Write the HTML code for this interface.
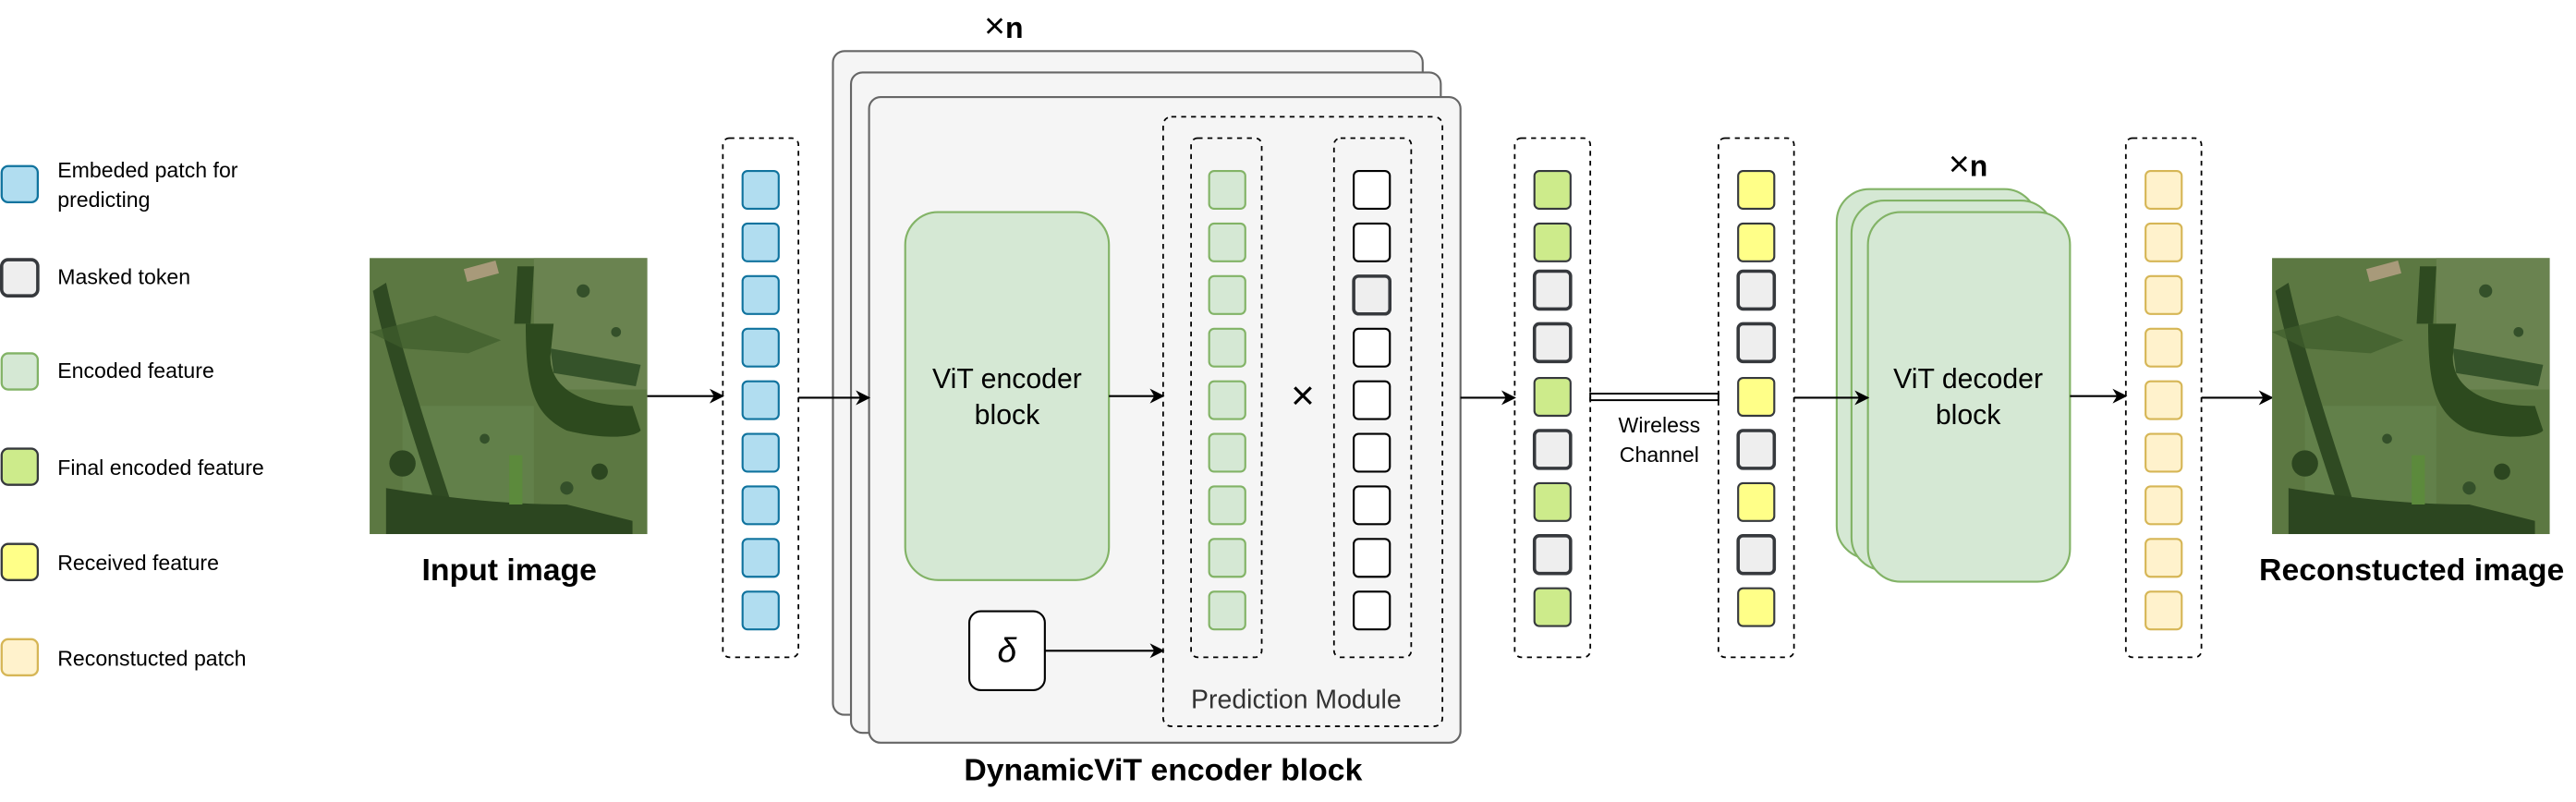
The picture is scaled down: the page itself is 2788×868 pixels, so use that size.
<!DOCTYPE html>
<html><head><meta charset="utf-8"><style>
html,body{margin:0;padding:0;background:#fff}
svg{display:block}
text{font-family:"Liberation Sans",Arial,sans-serif}
</style></head><body>
<svg width="2788" height="868" viewBox="0 0 1568 488" xmlns="http://www.w3.org/2000/svg">
<defs>
<marker id="ar" viewBox="0 0 10 10" refX="9" refY="5" markerWidth="9" markerHeight="9" orient="auto" markerUnits="userSpaceOnUse">
<path d="M0,0 L10,5 L0,10 L3,5 z" fill="#000"/>
</marker>
<g id="sat">
<rect x="0" y="0" width="169" height="168" fill="#5c7842"/>
<rect x="100" y="0" width="69" height="80" fill="#6a8350"/>
<rect x="20" y="90" width="80" height="60" fill="#62804a"/>
<rect x="58" y="4" width="20" height="8" fill="#a89a7a" transform="rotate(-15 68 8)"/>
<path d="M2,20 C10,60 30,120 45,165 L55,165 C40,120 20,60 10,15 z" fill="#2f4a22"/>
<path d="M90,5 L100,5 L98,40 L88,40 z" fill="#2e4a20"/>
<path d="M95,40 C95,80 100,95 120,105 C140,110 160,110 165,105 L160,90 C130,90 110,80 110,60 L112,40 z" fill="#2d4a1e"/>
<path d="M110,55 L165,65 L162,78 L112,70 z" fill="#35532a"/>
<path d="M10,140 C40,145 80,150 120,150 L160,160 L160,168 L10,168 z" fill="#2c4620"/>
<path d="M0,45 L40,35 L80,50 L60,58 L20,55 z" fill="#3e5c2c" opacity="0.7"/>
<circle cx="20" cy="125" r="8" fill="#2c4620"/>
<circle cx="140" cy="130" r="5" fill="#2c4620"/>
<circle cx="130" cy="20" r="4" fill="#34502a"/>
<circle cx="150" cy="45" r="3" fill="#34502a"/>
<circle cx="70" cy="110" r="3" fill="#34502a"/>
<circle cx="120" cy="140" r="4" fill="#34502a"/>
<rect x="85" y="120" width="8" height="30" fill="#5c8a3c"/>
</g>
</defs>

<!-- Legend -->
<g stroke-width="1.3">
<rect x="1" y="101" width="22" height="22" rx="4" fill="#b1ddf0" stroke="#10739e"/>
<rect x="1" y="158" width="22" height="22" rx="4" fill="#eeeeee" stroke="#36393d" stroke-width="2"/>
<rect x="1" y="215" width="22" height="22" rx="4" fill="#d5e8d4" stroke="#82b366"/>
<rect x="1" y="273" width="22" height="22" rx="4" fill="#cdeb8b" stroke="#36393d"/>
<rect x="1" y="331" width="22" height="22" rx="4" fill="#ffff88" stroke="#36393d"/>
<rect x="1" y="389" width="22" height="22" rx="4" fill="#fff2cc" stroke="#d6b656"/>
</g>
<g font-size="13" fill="#000">
<text x="35" y="108">Embeded patch for</text>
<text x="35" y="126">predicting</text>
<text x="35" y="173">Masked token</text>
<text x="35" y="230">Encoded feature</text>
<text x="35" y="289">Final encoded feature</text>
<text x="35" y="347">Received feature</text>
<text x="35" y="405">Reconstucted patch</text>
</g>

<!-- Input image -->
<use href="#sat" x="225" y="157"/>
<text x="310" y="353" font-size="19" font-weight="bold" text-anchor="middle">Input image</text>
<line x1="394" y1="241" x2="440" y2="241" stroke="#000" stroke-width="1.2" marker-end="url(#ar)"/>

<!-- Blue column -->
<rect x="440" y="84" width="46" height="316" rx="4" fill="none" stroke="#000" stroke-dasharray="3,3"/>
<g fill="#b1ddf0" stroke="#10739e" stroke-width="1.2">
<rect x="452" y="104" width="22" height="23" rx="3"/><rect x="452" y="136" width="22" height="23" rx="3"/>
<rect x="452" y="168" width="22" height="23" rx="3"/><rect x="452" y="200" width="22" height="23" rx="3"/>
<rect x="452" y="232" width="22" height="23" rx="3"/><rect x="452" y="264" width="22" height="23" rx="3"/>
<rect x="452" y="296" width="22" height="23" rx="3"/><rect x="452" y="328" width="22" height="23" rx="3"/>
<rect x="452" y="360" width="22" height="23" rx="3"/>
</g>

<!-- Encoder stack -->
<g fill="#f5f5f5" stroke="#666" stroke-width="1.2">
<rect x="507" y="31" width="359" height="404" rx="7"/>
<rect x="518" y="44" width="359" height="402" rx="7"/>
<rect x="529" y="59" width="360" height="393" rx="7"/>
</g>
<text x="611" y="23" font-size="18" text-anchor="middle"><tspan font-size="22">×</tspan><tspan font-weight="bold">n</tspan></text>
<line x1="486" y1="242" x2="529" y2="242" stroke="#000" stroke-width="1.2" marker-end="url(#ar)"/>
<rect x="551" y="129" width="124" height="224" rx="20" fill="#d5e8d4" stroke="#82b366" stroke-width="1.2"/>
<text x="613" y="236" font-size="17" text-anchor="middle">ViT  encoder</text>
<text x="613" y="258" font-size="17" text-anchor="middle">block</text>
<line x1="675" y1="241" x2="708" y2="241" stroke="#000" stroke-width="1.2" marker-end="url(#ar)"/>
<rect x="590" y="372" width="46" height="48" rx="7" fill="#fff" stroke="#000" stroke-width="1.2"/>
<text x="613" y="403" font-size="21" font-style="italic" text-anchor="middle" font-family="Liberation Serif,serif">δ</text>
<line x1="636" y1="396" x2="708" y2="396" stroke="#000" stroke-width="1.2" marker-end="url(#ar)"/>

<!-- Prediction module -->
<rect x="708" y="71" width="170" height="371" rx="5" fill="none" stroke="#000" stroke-dasharray="3,3"/>
<rect x="725" y="84" width="43" height="316" rx="4" fill="none" stroke="#000" stroke-dasharray="3,3"/>
<rect x="812" y="84" width="47" height="316" rx="4" fill="none" stroke="#000" stroke-dasharray="3,3"/>
<g fill="#d5e8d4" stroke="#82b366" stroke-width="1.2">
<rect x="736" y="104" width="22" height="23" rx="3"/><rect x="736" y="136" width="22" height="23" rx="3"/>
<rect x="736" y="168" width="22" height="23" rx="3"/><rect x="736" y="200" width="22" height="23" rx="3"/>
<rect x="736" y="232" width="22" height="23" rx="3"/><rect x="736" y="264" width="22" height="23" rx="3"/>
<rect x="736" y="296" width="22" height="23" rx="3"/><rect x="736" y="328" width="22" height="23" rx="3"/>
<rect x="736" y="360" width="22" height="23" rx="3"/>
</g>
<g fill="#fff" stroke="#000" stroke-width="1.2">
<rect x="824" y="104" width="22" height="23" rx="3"/><rect x="824" y="136" width="22" height="23" rx="3"/>
<rect x="824" y="168" width="22" height="23" rx="3" fill="#eeeeee" stroke="#36393d" stroke-width="2"/><rect x="824" y="200" width="22" height="23" rx="3"/>
<rect x="824" y="232" width="22" height="23" rx="3"/><rect x="824" y="264" width="22" height="23" rx="3"/>
<rect x="824" y="296" width="22" height="23" rx="3"/><rect x="824" y="328" width="22" height="23" rx="3"/>
<rect x="824" y="360" width="22" height="23" rx="3"/>
</g>
<text x="793" y="249" font-size="25" text-anchor="middle">×</text>
<text x="789" y="431" font-size="16" fill="#333" text-anchor="middle">Prediction Module</text>
<text x="708" y="475" font-size="19" font-weight="bold" text-anchor="middle">DynamicViT encoder block</text>

<line x1="889" y1="242" x2="922" y2="242" stroke="#000" stroke-width="1.2" marker-end="url(#ar)"/>

<!-- Final encoded column -->
<rect x="922" y="84" width="46" height="316" rx="4" fill="none" stroke="#000" stroke-dasharray="3,3"/>
<g stroke="#36393d" stroke-width="1.2">
<rect x="934" y="104" width="22" height="23" rx="3" fill="#cdeb8b"/>
<rect x="934" y="136" width="22" height="23" rx="3" fill="#cdeb8b"/>
<rect x="934" y="165" width="22" height="23" rx="3" fill="#eeeeee" stroke-width="2"/>
<rect x="934" y="197" width="22" height="23" rx="3" fill="#eeeeee" stroke-width="2"/>
<rect x="934" y="230" width="22" height="23" rx="3" fill="#cdeb8b"/>
<rect x="934" y="262" width="22" height="23" rx="3" fill="#eeeeee" stroke-width="2"/>
<rect x="934" y="294" width="22" height="23" rx="3" fill="#cdeb8b"/>
<rect x="934" y="326" width="22" height="23" rx="3" fill="#eeeeee" stroke-width="2"/>
<rect x="934" y="358" width="22" height="23" rx="3" fill="#cdeb8b"/>
</g>
<rect x="968" y="239.5" width="78" height="4" fill="#fff" stroke="#000" stroke-width="1.1"/>
<text x="1010" y="263" font-size="13" text-anchor="middle">Wireless</text>
<text x="1010" y="281" font-size="13" text-anchor="middle">Channel</text>

<!-- Received column -->
<rect x="1046" y="84" width="46" height="316" rx="4" fill="none" stroke="#000" stroke-dasharray="3,3"/>
<g stroke="#36393d" stroke-width="1.2">
<rect x="1058" y="104" width="22" height="23" rx="3" fill="#ffff88"/>
<rect x="1058" y="136" width="22" height="23" rx="3" fill="#ffff88"/>
<rect x="1058" y="165" width="22" height="23" rx="3" fill="#eeeeee" stroke-width="2"/>
<rect x="1058" y="197" width="22" height="23" rx="3" fill="#eeeeee" stroke-width="2"/>
<rect x="1058" y="230" width="22" height="23" rx="3" fill="#ffff88"/>
<rect x="1058" y="262" width="22" height="23" rx="3" fill="#eeeeee" stroke-width="2"/>
<rect x="1058" y="294" width="22" height="23" rx="3" fill="#ffff88"/>
<rect x="1058" y="326" width="22" height="23" rx="3" fill="#eeeeee" stroke-width="2"/>
<rect x="1058" y="358" width="22" height="23" rx="3" fill="#ffff88"/>
</g>

<!-- Decoder stack -->
<g fill="#d5e8d4" stroke="#82b366" stroke-width="1.2">
<rect x="1118" y="115" width="122" height="225" rx="20"/>
<rect x="1127" y="122" width="123" height="225" rx="20"/>
<rect x="1137" y="129" width="123" height="225" rx="20"/>
</g>
<line x1="1092" y1="242" x2="1137" y2="242" stroke="#000" stroke-width="1.2" marker-end="url(#ar)"/>
<text x="1198" y="107" font-size="18" text-anchor="middle"><tspan font-size="22">×</tspan><tspan font-weight="bold">n</tspan></text>
<text x="1198" y="236" font-size="17" text-anchor="middle">ViT  decoder</text>
<text x="1198" y="258" font-size="17" text-anchor="middle">block</text>
<line x1="1260" y1="241" x2="1294" y2="241" stroke="#000" stroke-width="1.2" marker-end="url(#ar)"/>

<!-- Reconstructed column -->
<rect x="1294" y="84" width="46" height="316" rx="4" fill="none" stroke="#000" stroke-dasharray="3,3"/>
<g fill="#fff2cc" stroke="#d6b656" stroke-width="1.2">
<rect x="1306" y="104" width="22" height="23" rx="3"/><rect x="1306" y="136" width="22" height="23" rx="3"/>
<rect x="1306" y="168" width="22" height="23" rx="3"/><rect x="1306" y="200" width="22" height="23" rx="3"/>
<rect x="1306" y="232" width="22" height="23" rx="3"/><rect x="1306" y="264" width="22" height="23" rx="3"/>
<rect x="1306" y="296" width="22" height="23" rx="3"/><rect x="1306" y="328" width="22" height="23" rx="3"/>
<rect x="1306" y="360" width="22" height="23" rx="3"/>
</g>
<line x1="1340" y1="242" x2="1383" y2="242" stroke="#000" stroke-width="1.2" marker-end="url(#ar)"/>
<use href="#sat" x="1383" y="157"/>
<text x="1468" y="353" font-size="19" font-weight="bold" text-anchor="middle">Reconstucted image</text>
</svg>
</body></html>
